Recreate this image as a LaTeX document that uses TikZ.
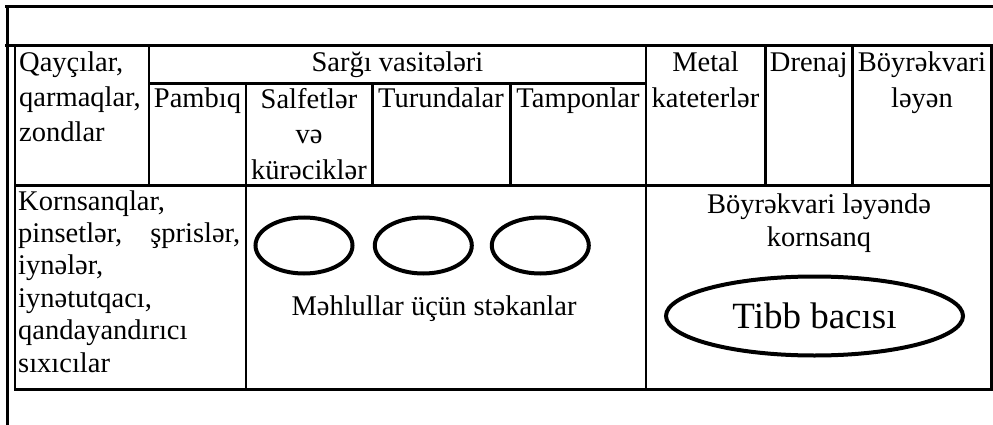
\documentclass[tikz,border=0pt]{standalone}
\usepackage{fontspec}
\setmainfont{Liberation Serif}
\usetikzlibrary{shapes.geometric}
\begin{document}
\begin{tikzpicture}[x=1pt,y=-1pt,
  grid/.style={line width=2.5pt},
  txt/.style={font=\fontsize{28.5}{35}\selectfont, inner sep=0pt, anchor=base, align=center},
  txtl/.style={font=\fontsize{28.5}{32.4}\selectfont, inner sep=0pt, anchor=base west, align=left},
  cupline/.style={line width=4pt},
]
\useasboundingbox (0,0) rectangle (993,425);
% outer frame
\draw[grid] (5,6.7) -- (993,6.7);
\draw[grid] (7.3,6.7) -- (7.3,425);
\draw[grid] (5,45.7) -- (993,45.7);
% table
\draw[grid] (15,45.7) -- (15,389.3) -- (991.7,389.3) -- (991.7,45.7);
\draw[grid] (15,185.7) -- (991.7,185.7);
\draw[grid] (149,83.3) -- (646,83.3);
\draw[grid] (149,45.7) -- (149,185.7);
\draw[grid] (246,83.3) -- (246,389.3);
\draw[grid] (372.3,83.3) -- (372.3,185.7);
\draw[grid] (510.3,83.3) -- (510.3,185.7);
\draw[grid] (646,45.7) -- (646,389.3);
\draw[grid] (765.3,45.7) -- (765.3,185.7);
\draw[grid] (852.3,45.7) -- (852.3,185.7);
% header texts (multi-line nodes are placed by the baseline of their last line)
\node[txt, anchor=base west, align=left] (q1) at (19,141.5) {Qayçılar,\\qarmaqlar,\\zondlar};
\node[txt] (sargi) at (397.5,71.5) {Sarğı vasitələri};
\node[txt, font=\fontsize{28.5}{36.5}\selectfont] (metal) at (705.5,108) {Metal\\kateterlər};
\node[txt] (drenaj) at (808.7,71.5) {Drenaj};
\node[txt, font=\fontsize{28.5}{36.5}\selectfont] (boyrek) at (922,108) {Böyrəkvari\\ləyən};
\node[txt] (pambiq) at (197.5,108) {Pambıq};
\node[txt, font=\fontsize{28.5}{35.5}\selectfont] (salfet) at (309,179) {Salfetlər\\və\\kürəciklər};
\node[txt] (turunda) at (441,108) {Turundalar};
\node[txt] (tampon) at (578,108) {Tamponlar};
% second row
\node[txtl, text width=222pt] (korn) at (18,210) {Kornsanqlar,\\pinsetlər,\hfill şprislər,\\iynələr,\\iynətutqacı,\\qandayandırıcı\\sıxıcılar};
\coordinate (c1) at (304,245.5);
\coordinate (c2) at (423.3,245.5);
\coordinate (c3) at (540.3,245.5);
\draw[cupline] (c1) ellipse [x radius=48.5, y radius=28];
\draw[cupline] (c2) ellipse [x radius=48.5, y radius=28];
\draw[cupline] (c3) ellipse [x radius=48.5, y radius=28];
\node[txt] (mehlul) at (434,315) {Məhlullar üçün stəkanlar};
\node[txt, font=\fontsize{28.5}{33.4}\selectfont] (boyrek2) at (819,246.7) {Böyrəkvari ləyəndə\\kornsanq};
\node[draw, ellipse, line width=4pt, minimum width=297pt, minimum height=79pt, inner sep=0pt,
      font=\fontsize{37}{40}\selectfont] (tibb) at (814.5,316) {Tibb bacısı};
\end{tikzpicture}
\end{document}
